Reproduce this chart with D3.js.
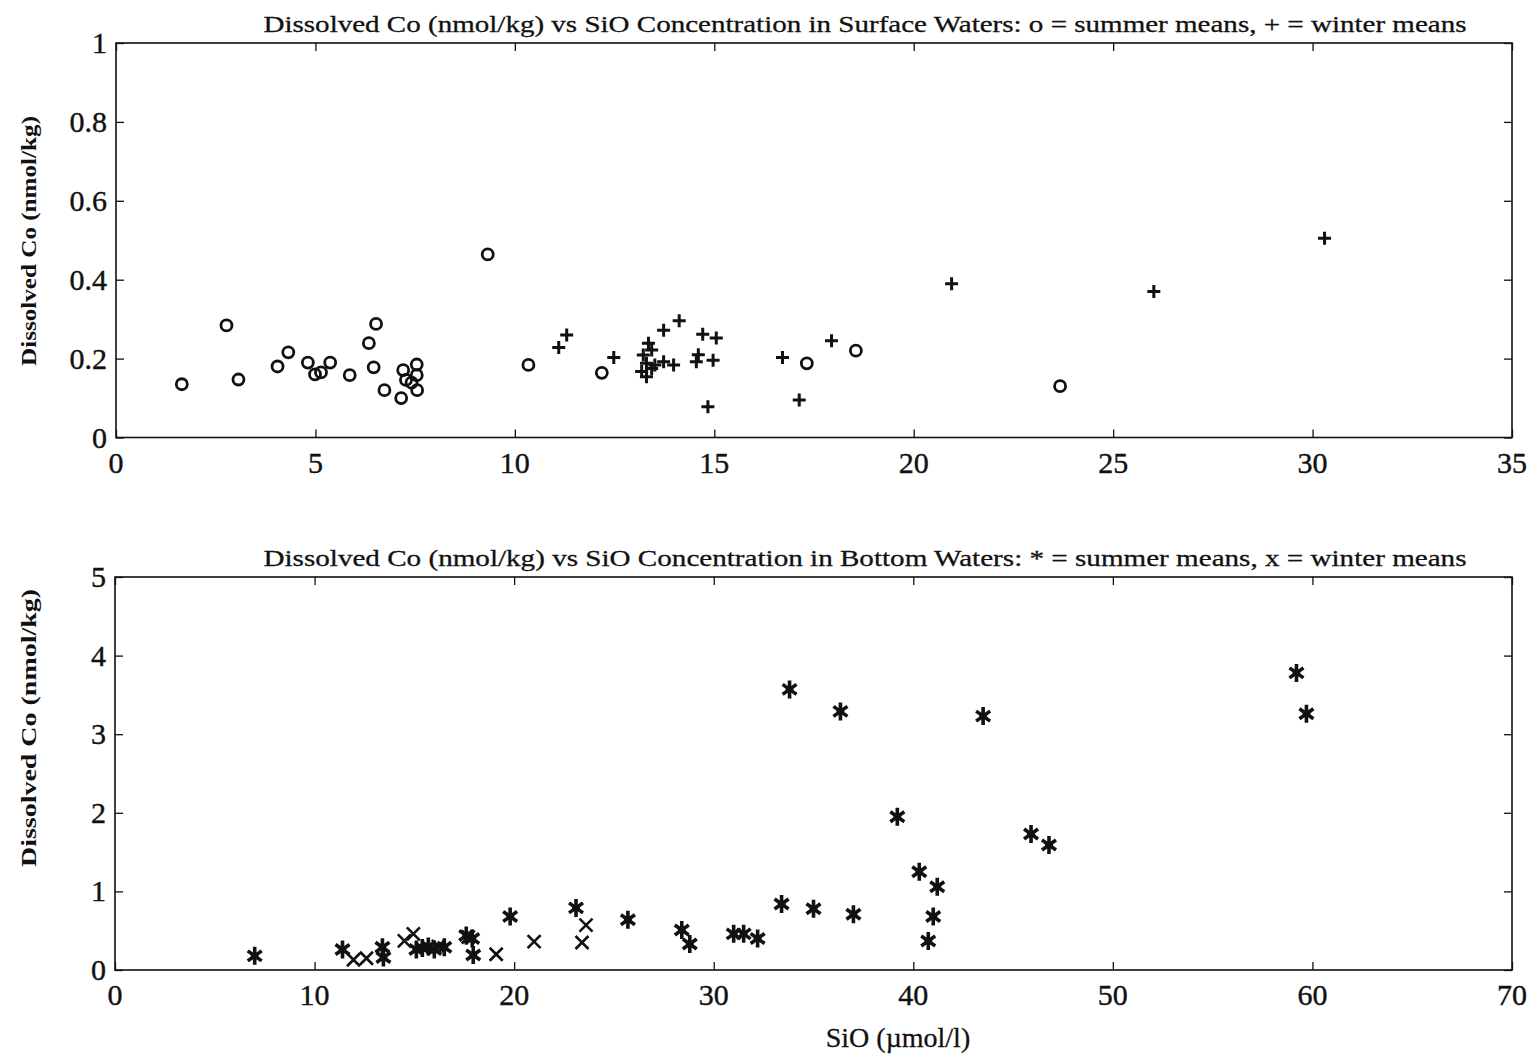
<!DOCTYPE html>
<html>
<head>
<meta charset="utf-8">
<script src="https://cdn.jsdelivr.net/npm/d3@7"></script>
<style>
  html, body { margin: 0; padding: 0; background: #fff; }
  svg text { font-family: "Liberation Serif", "Times New Roman", serif; fill: #111; }
</style>
</head>
<body>
<svg id="chart" width="1531" height="1055"></svg>
<script>
// Surface waters: [SiO µmol/l, dissolved Co nmol/kg]
const surfaceSummer = [
  [1.65,0.135],[2.77,0.284],[3.07,0.147],[4.05,0.18],[4.32,0.216],[4.81,0.19],
  [4.99,0.16],[5.14,0.165],[5.37,0.19],[5.86,0.158],[6.34,0.239],[6.46,0.178],
  [6.52,0.288],[6.73,0.12],[7.15,0.10],[7.2,0.171],[7.27,0.146],[7.41,0.139],
  [7.54,0.185],[7.54,0.158],[7.55,0.12],[9.32,0.464],[10.34,0.184],[12.18,0.164],
  [17.32,0.188],[18.55,0.22],[23.67,0.13]
];
const surfaceWinter = [
  [11.1,0.228],[11.3,0.26],[12.48,0.203],[13.18,0.167],[13.22,0.209],[13.3,0.154],
  [13.3,0.188],[13.35,0.239],[13.43,0.222],[13.43,0.175],[13.51,0.184],[13.73,0.272],
  [13.73,0.192],[13.98,0.184],[14.12,0.296],[14.55,0.192],[14.6,0.21],[14.71,0.262],
  [14.84,0.078],[14.97,0.196],[15.05,0.252],[16.71,0.203],[17.13,0.095],[17.94,0.245],
  [20.95,0.39],[26.02,0.37],[30.3,0.505]
];

// Bottom waters
const bottomSummer = [
  [7.0,0.18],[11.4,0.26],[13.4,0.29],[13.45,0.16],[15.1,0.26],[15.4,0.28],[15.7,0.3],
  [16.0,0.26],[16.5,0.29],[17.6,0.44],[17.9,0.4],[17.95,0.19],[19.8,0.68],[23.1,0.79],
  [25.7,0.64],[28.4,0.51],[28.8,0.33],[31.0,0.46],[31.5,0.46],[32.2,0.40],[33.4,0.84],
  [33.8,3.57],[35.0,0.78],[36.35,3.29],[37.0,0.71],[39.2,1.95],[40.3,1.25],[40.75,0.37],
  [41.0,0.68],[41.2,1.06],[43.5,3.23],[45.9,1.73],[46.8,1.59],[59.2,3.78],[59.7,3.26]
];
const bottomWinter = [
  [11.95,0.13],[12.6,0.15],[14.5,0.37],[14.95,0.46],[16.2,0.30],[17.7,0.42],
  [19.1,0.2],[21.0,0.36],[23.4,0.35],[23.6,0.57]
];

const topXTicks = [0, 5, 10, 15, 20, 25, 30, 35];
const topYTicks = [0, 0.2, 0.4, 0.6, 0.8, 1];
const botXTicks = [0, 10, 20, 30, 40, 50, 60, 70];
const botYTicks = [0, 1, 2, 3, 4, 5];

const titleTop = "Dissolved Co (nmol/kg) vs SiO Concentration in Surface Waters: o = summer means, + = winter means";
const titleBottom = "Dissolved Co (nmol/kg) vs SiO Concentration in Bottom Waters: * = summer means, x = winter means";
const yLabel = "Dissolved Co (nmol/kg)";
const xLabel = "SiO (\u00b5mol/l)";

const svg = d3.select("#chart");
const ink = "#111";

function panel(opts) {
  const { left, right, top, bottom, xDomain, yDomain, xTicks, yTicks, title, yFmt, yLabLen } = opts;
  const x = d3.scaleLinear().domain(xDomain).range([left, right]);
  const y = d3.scaleLinear().domain(yDomain).range([bottom, top]);
  const g = svg.append("g");

  // frame
  g.append("rect")
    .attr("x", left).attr("y", top)
    .attr("width", right - left).attr("height", bottom - top)
    .attr("fill", "none").attr("stroke", ink).attr("stroke-width", 1.6);

  const tl = 8;
  // inward ticks on all four sides
  const bx = g.append("g").attr("transform", `translate(0,${bottom})`)
    .call(d3.axisBottom(x).tickValues(xTicks).tickSize(-tl).tickFormat(""));
  const tx = g.append("g").attr("transform", `translate(0,${top})`)
    .call(d3.axisTop(x).tickValues(xTicks).tickSize(-tl).tickFormat(""));
  const ly = g.append("g").attr("transform", `translate(${left},0)`)
    .call(d3.axisLeft(y).tickValues(yTicks).tickSize(-tl).tickFormat(""));
  const ry = g.append("g").attr("transform", `translate(${right},0)`)
    .call(d3.axisRight(y).tickValues(yTicks).tickSize(-tl).tickFormat(""));
  [bx, tx, ly, ry].forEach(a => {
    a.select(".domain").remove();
    a.selectAll("line").attr("stroke", ink).attr("stroke-width", 1.3);
  });

  // tick labels
  g.selectAll(".xl").data(xTicks).join("text")
    .attr("x", d => x(d)).attr("y", bottom + 35)
    .attr("text-anchor", "middle").attr("font-size", 30)
    .attr("stroke", ink).attr("stroke-width", 0.4)
    .text(d => d);
  g.selectAll(".yl").data(yTicks).join("text")
    .attr("x", left - 9).attr("y", d => y(d) + 10)
    .attr("text-anchor", "end").attr("font-size", 30)
    .attr("stroke", ink).attr("stroke-width", 0.4)
    .text(yFmt);

  // title
  g.append("text")
    .attr("x", 865).attr("y", top - 11)
    .attr("text-anchor", "middle").attr("font-size", 24)
    .attr("stroke", ink).attr("stroke-width", 0.3)
    .attr("textLength", 1203).attr("lengthAdjust", "spacingAndGlyphs")
    .text(title);

  // y label
  g.append("text")
    .attr("transform", `translate(36,${opts.yLabMid}) rotate(-90)`)
    .attr("text-anchor", "middle").attr("font-size", 22).attr("font-weight", "bold")
    .attr("textLength", yLabLen).attr("lengthAdjust", "spacingAndGlyphs")
    .text(yLabel);

  return { g, x, y };
}

// ---- top: surface waters
const P1 = panel({
  left: 116, right: 1512, top: 43, bottom: 437.5,
  xDomain: [0, 35], yDomain: [0, 1],
  xTicks: topXTicks, yTicks: topYTicks,
  title: titleTop, yFmt: d => d, yLabLen: 250, yLabMid: 241
});

P1.g.append("g").selectAll("circle").data(surfaceSummer).join("circle")
  .attr("cx", d => P1.x(d[0])).attr("cy", d => P1.y(d[1]))
  .attr("r", 5.5).attr("fill", "none").attr("stroke", ink).attr("stroke-width", 2.8);

P1.g.append("g").selectAll("path").data(surfaceWinter).join("path")
  .attr("transform", d => `translate(${P1.x(d[0])},${P1.y(d[1])})`)
  .attr("d", "M-6.5,0H6.5M0,-6.5V6.5")
  .attr("fill", "none").attr("stroke", ink).attr("stroke-width", 3);

// ---- bottom: bottom waters
const P2 = panel({
  left: 115, right: 1512, top: 577, bottom: 970,
  xDomain: [0, 70], yDomain: [0, 5],
  xTicks: botXTicks, yTicks: botYTicks,
  title: titleBottom, yFmt: d => d, yLabLen: 278, yLabMid: 728
});

// asterisk: vertical bar plus two diagonals
const star = "M0,-9V9M-7,-5L7,5M-7,5L7,-5M-4,0H4";
P2.g.append("g").selectAll("path").data(bottomSummer).join("path")
  .attr("transform", d => `translate(${P2.x(d[0])},${P2.y(d[1])})`)
  .attr("d", star)
  .attr("fill", "none").attr("stroke", ink).attr("stroke-width", 3.6);

P2.g.append("g").selectAll("path").data(bottomWinter).join("path")
  .attr("transform", d => `translate(${P2.x(d[0])},${P2.y(d[1])})`)
  .attr("d", "M-6.5,-6.5L6.5,6.5M-6.5,6.5L6.5,-6.5")
  .attr("fill", "none").attr("stroke", ink).attr("stroke-width", 2.6);

// x axis title
svg.append("text")
  .attr("x", 898).attr("y", 1047)
  .attr("text-anchor", "middle").attr("font-size", 28)
  .attr("stroke", ink).attr("stroke-width", 0.3)
  .text(xLabel);
</script>
</body>
</html>
